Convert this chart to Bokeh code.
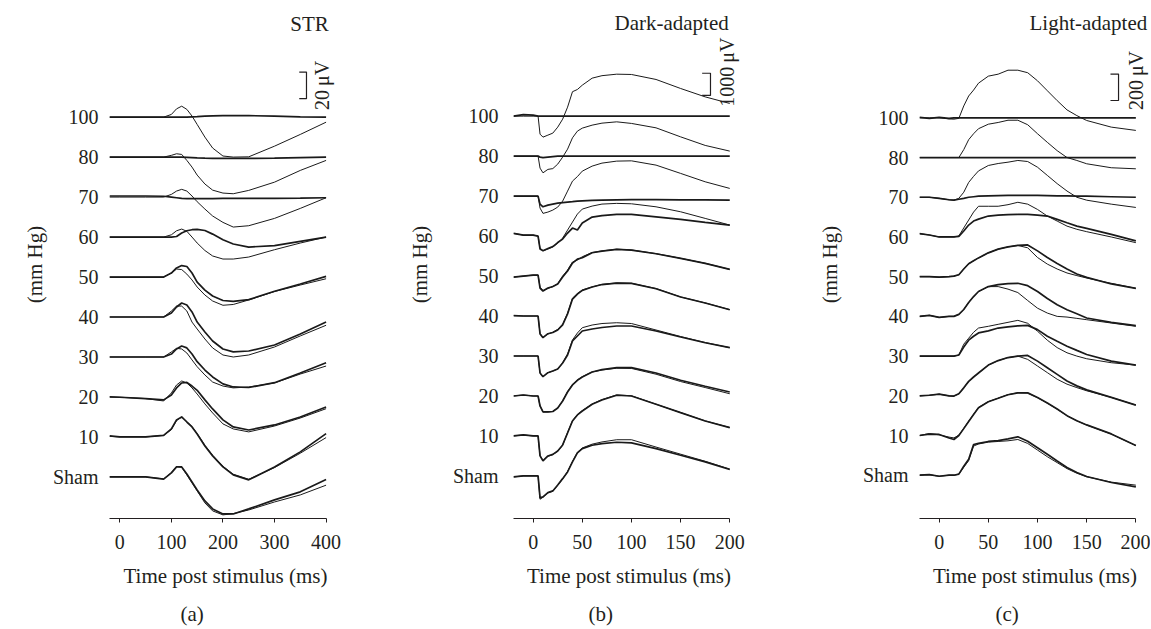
import math
from bokeh.plotting import figure
from bokeh.layouts import row
from bokeh.models import FixedTicker, Title, Range1d
from bokeh.core.properties import value
from bokeh.embed import file_html
from bokeh.resources import INLINE

FONT = "Liberation Serif"
INK = "#231f20"
TRACE = "#1a1a1a"

LEVEL_LABELS = ["Sham", "10", "20", "30", "40", "50", "60", "70", "80", "100"]

# ---------------- (a) STR, values in microvolts ----------------
STR_T = [-20, 0, 50, 85, 100, 110, 120, 130, 140, 150, 165, 180, 200, 220, 250, 300, 350, 400]
STR_SHAM_A = [0, 0, 0, -1.7, 3, 7.5, 7.5, 2.2, -3.8, -9.8, -18, -24, -27.8, -27.8, -24, -17.2, -11.2, -2]
STR_SHAM_B = [0, 0, 0, -1.5, 3.2, 7.8, 7.2, 1.5, -4.5, -10.5, -19.5, -25.5, -28.5, -27.5, -24.8, -18.8, -13.5, -6.2]
STR_10_A = [0.8, 0, 0, 1.2, 6, 12.8, 15, 11.2, 7.5, 2.2, -6.8, -14.2, -22.5, -28.5, -32.2, -22.5, -11.2, 2.5]
STR_10_B = [0.5, 0, 0, 1.2, 5.5, 12.2, 15, 11.5, 7.8, 2.5, -6.2, -13.8, -22, -28, -31.8, -23, -12.2, -0.5]
STR_20_A = [0, -0.2, -1.2, -2.2, 1.5, 6.8, 10.5, 10.9, 8.2, 5, -2.2, -9, -17.2, -22.5, -24.8, -21, -15, -7.5]
STR_20_B = [0, -0.2, -1.2, -3, 3, 9, 12, 10.5, 6.8, 2.2, -5.2, -12, -20.2, -24, -26.2, -21.8, -15.8, -8.8]
STR_30_A = [0, 0, 0, 0, 2.2, 6, 8.2, 6.8, 2.2, -3.5, -9.8, -15, -20.2, -22.5, -22.9, -19.3, -12, -4.3]
STR_30_B = [0, 0, 0, 0, 3.8, 6.5, 6, 3, -2.2, -7.3, -13.5, -18.8, -21.8, -23.2, -22.5, -19.5, -12.8, -6.8]
STR_40_A = [0, 0, 0, 0, 3, 7.5, 10.5, 9, 3.8, -3.8, -11.2, -18, -24, -26.2, -25.5, -21, -12.8, -3.8]
STR_40_B = [0, 0, 0, 0, 4.5, 8.2, 8.2, 4.5, -3.8, -9, -16.5, -23.2, -28.5, -30, -28.5, -22.5, -14.2, -6.2]
STR_50_A = [0, 0, 0, 0, 3, 6.8, 8.6, 7.9, 3, -3.8, -9.8, -14.2, -17.6, -18.2, -17, -10.7, -5.2, 0.5]
STR_50_B = [0, 0, 0, 0, 3, 6, 5.6, 2.2, -2.2, -7.5, -13.5, -18, -21.2, -20.6, -17.2, -10.9, -6, -1.3]
STR_60_A = [0, 0, 0, 0, 0, 0.4, 3, 4.7, 5.5, 5.8, 4.9, 2.2, -2, -5.2, -7.5, -6.5, -3.2, 0]
STR_60_B = [0, 0, 0, 0, 1.7, 4.7, 6, 4.3, 0, -4.5, -10.1, -14.2, -16.5, -16.5, -15, -9.5, -4.5, 0]
STR_70_A = [0.8, 0.8, 0.8, 0.6, 0, -0.5, -1, -1.1, -1.2, -1.2, -1.2, -1.1, -1, -1, -1, -1, -0.8, -0.5]
STR_70_B = [0, 0, 0, 0, 2, 4.5, 5.8, 4.5, 0.8, -3.5, -9, -14.2, -19, -22.5, -21.5, -16, -8.5, -0.5]
STR_80_A = [0, 0, 0, 0, 0, 0, 0, -0.2, -0.4, -0.6, -0.8, -0.9, -1, -1, -1, -0.8, -0.4, 0]
STR_80_B = [0, 0, 0, 0, 1.3, 2.5, 2, -2.5, -7.5, -13.5, -20.2, -24.8, -27, -27.5, -25, -18.8, -10, -2.5]
STR_100_A = [0, 0, 0, 0, 0, 0, 0, 0, 0.2, 0.4, 0.8, 1, 1.1, 1.1, 1.1, 0.8, 0.2, 0]
STR_100_B = [0, 0, 0, 0, 2, 6.2, 8.2, 5.8, 0.8, -5.5, -15, -23.2, -29.2, -30, -29.8, -21.8, -13, -3.8]

# ---------------- (b) Dark-adapted ----------------
DARK_T = [-20, -10, 0, 5, 7, 10, 15, 20, 25, 30, 35, 40, 45, 50, 60, 70, 85, 100, 125, 150, 175, 200]
DARK_SHAM_A = [-45, 0, 0, 0, -990, -945, -752, -675, -405, -122, 180, 630, 1035, 1228, 1382, 1454, 1516, 1485, 1228, 932, 630, 292]
DARK_SHAM_B = [-45, 0, 0, 0, -1050, -960, -760, -690, -420, -140, 200, 650, 1060, 1260, 1430, 1530, 1630, 1630, 1300, 980, 660, 310]
DARK_10_A = [0, 45, 0, 0, -900, -1125, -900, -832, -675, -405, 135, 675, 945, 1125, 1426, 1620, 1832, 1800, 1426, 1048, 675, 374]
DARK_10_B = [0, 45, 0, 0, -880, -1100, -920, -840, -690, -420, 160, 690, 960, 1140, 1440, 1640, 1850, 1810, 1430, 1050, 680, 380]
DARK_20_A = [0, 45, 0, 0, -450, -720, -720, -698, -540, -225, 180, 495, 706, 855, 1080, 1184, 1274, 1274, 1035, 706, 436, 180]
DARK_20_B = [0, 45, 0, 0, -450, -720, -720, -698, -540, -225, 200, 520, 720, 870, 1080, 1170, 1250, 1240, 980, 650, 380, 100]
DARK_30_A = [0, 0, 0, 0, -765, -932, -752, -675, -585, -315, 45, 675, 900, 1125, 1215, 1282, 1350, 1350, 1125, 855, 598, 374]
DARK_30_B = [0, 0, 0, 0, -765, -932, -752, -675, -585, -315, 90, 720, 1035, 1274, 1395, 1462, 1498, 1462, 1170, 878, 608, 374]
DARK_40_A = [22, 0, 0, 0, -810, -976, -796, -742, -630, -405, 90, 765, 990, 1156, 1305, 1418, 1485, 1472, 1228, 855, 585, 284]
DARK_40_B = [22, 0, 0, 0, -780, -960, -810, -730, -600, -360, 135, 800, 1010, 1170, 1310, 1425, 1490, 1475, 1240, 860, 590, 290]
DARK_50_A = [-45, 0, 45, 45, -540, -675, -540, -472, -360, -45, 225, 585, 765, 824, 1048, 1125, 1202, 1170, 1004, 796, 572, 302]
DARK_50_B = [-45, 0, 45, 45, -500, -650, -560, -480, -340, 0, 270, 630, 720, 870, 1060, 1130, 1210, 1175, 1010, 800, 575, 300]
DARK_60_A = [122, 45, 45, 0, -585, -662, -562, -472, -292, -135, 135, 360, 270, 585, 855, 922, 976, 976, 868, 752, 616, 495]
DARK_60_B = [122, 45, 45, 0, -540, -662, -585, -495, -315, -90, 270, 630, 990, 1215, 1350, 1440, 1472, 1454, 1318, 1094, 796, 495]
DARK_70_A = [0, 0, 0, 0, -360, -482, -405, -360, -315, -292, -270, -248, -225, -212, -189, -180, -166, -158, -158, -166, -171, -180]
DARK_70_B = [0, 0, 0, 0, -540, -778, -720, -630, -495, -225, 225, 675, 878, 1125, 1350, 1485, 1575, 1588, 1395, 1022, 644, 346]
DARK_80_A = [0, 0, 0, 0, -45, -68, -45, -22, 0, 0, 0, 0, 0, 0, 0, 0, 0, 0, 0, 0, 0, 0]
DARK_80_B = [0, 0, 0, 0, -540, -752, -598, -562, -360, -45, 315, 824, 1125, 1260, 1395, 1485, 1544, 1472, 1274, 868, 482, 225]
DARK_100_A = [0, 68, 45, 0, 0, 0, 0, 0, 0, 0, 0, 0, 0, 0, 0, 0, 0, 0, 0, 0, 0, 0]
DARK_100_B = [0, 0, 0, 0, -810, -945, -855, -765, -495, -135, 405, 1100, 1200, 1395, 1710, 1822, 1890, 1876, 1652, 1246, 868, 572]

# ---------------- (c) Light-adapted ----------------
LIGHT_T = [-20, -10, 0, 10, 15, 20, 25, 30, 35, 40, 50, 60, 70, 80, 90, 100, 110, 120, 130, 140, 150, 175, 200]
LIGHT_SHAM_A = [0, 4, -8, 0, 0, 8, 68, 120, 232, 240, 255, 262, 275, 290, 257, 208, 158, 107, 58, 20, -10, -55, -88]
LIGHT_SHAM_B = [0, 4, -8, 0, 0, 8, 60, 110, 220, 236, 250, 255, 260, 270, 240, 190, 140, 95, 50, 15, -12, -52, -75]
LIGHT_10_A = [0, 11, 8, -19, -30, 0, 52, 105, 158, 210, 255, 281, 308, 322, 322, 287, 245, 200, 150, 112, 80, 12, -75]
LIGHT_10_B = [0, 15, 5, -12, -18, 2, 55, 108, 160, 212, 256, 282, 309, 323, 321, 286, 244, 199, 149, 111, 79, 11, -76]
LIGHT_20_A = [0, 4, 12, 0, -2, 15, 60, 109, 142, 172, 232, 266, 289, 300, 305, 262, 212, 162, 112, 75, 45, -12, -70]
LIGHT_20_B = [0, 4, 12, 0, -2, 15, 60, 109, 142, 172, 232, 266, 289, 300, 275, 225, 175, 125, 88, 62, 38, -12, -70]
LIGHT_30_A = [0, 0, 0, 0, 0, 8, 68, 120, 150, 175, 191, 212, 221, 229, 232, 200, 150, 112, 75, 43, 12, -38, -68]
LIGHT_30_B = [0, 0, 0, 0, 0, 8, 90, 135, 180, 212, 225, 240, 255, 270, 248, 188, 120, 64, 25, 0, -20, -50, -68]
LIGHT_40_A = [0, 8, -8, 0, 0, 15, 52, 105, 150, 188, 225, 240, 248, 250, 232, 188, 135, 88, 50, 20, -12, -45, -70]
LIGHT_40_B = [0, 8, -8, 0, 0, 15, 52, 105, 150, 188, 225, 225, 206, 180, 120, 62, 25, 0, -5, -15, -25, -50, -75]
LIGHT_50_A = [0, 0, -4, 0, 4, 15, 58, 98, 120, 142, 180, 208, 225, 236, 240, 195, 145, 100, 58, 20, -5, -55, -88]
LIGHT_50_B = [0, 0, -4, 0, 4, 15, 58, 98, 120, 142, 180, 208, 225, 236, 218, 145, 95, 58, 28, 8, -10, -50, -88]
LIGHT_60_A = [25, 15, 0, 0, 0, 4, 45, 90, 120, 135, 158, 165, 169, 170, 170, 165, 158, 133, 107, 82, 65, 20, -30]
LIGHT_60_B = [25, 15, 0, 0, 0, 8, 68, 128, 188, 232, 232, 232, 244, 262, 248, 208, 158, 120, 82, 58, 40, 0, -43]
LIGHT_70_A = [0, 0, -8, -19, -22, -15, -8, 0, 4, 8, 11, 13, 15, 15, 15, 15, 13, 11, 10, 9, 8, 4, 0]
LIGHT_70_B = [0, 0, -8, -19, -22, -8, 38, 112, 158, 199, 240, 255, 265, 278, 270, 227, 165, 103, 47, 0, -22, -52, -77]
LIGHT_80_A = [0] * 23
LIGHT_80_B = [0, 0, 0, 0, 0, 0, 60, 135, 180, 218, 252, 265, 282, 282, 248, 180, 115, 52, 0, -22, -47, -77, -85]
LIGHT_100_A = [4, -4, 4, -4, 0, 0, 0, 0, 0, 0, 0, 0, 0, 0, 0, 0, 0, 0, 0, 0, 0, 0, 0]
LIGHT_100_B = [0, 0, 0, -8, -10, -4, 90, 165, 210, 262, 315, 330, 360, 360, 341, 280, 205, 130, 60, 17, -20, -70, -95]

STR_TRACES = [(STR_SHAM_A, STR_SHAM_B), (STR_10_A, STR_10_B), (STR_20_A, STR_20_B),
              (STR_30_A, STR_30_B), (STR_40_A, STR_40_B), (STR_50_A, STR_50_B),
              (STR_60_A, STR_60_B), (STR_70_A, STR_70_B), (STR_80_A, STR_80_B),
              (STR_100_A, STR_100_B)]
DARK_TRACES = [(DARK_SHAM_A, DARK_SHAM_B), (DARK_10_A, DARK_10_B), (DARK_20_A, DARK_20_B),
               (DARK_30_A, DARK_30_B), (DARK_40_A, DARK_40_B), (DARK_50_A, DARK_50_B),
               (DARK_60_A, DARK_60_B), (DARK_70_A, DARK_70_B), (DARK_80_A, DARK_80_B),
               (DARK_100_A, DARK_100_B)]
LIGHT_TRACES = [(LIGHT_SHAM_A, LIGHT_SHAM_B), (LIGHT_10_A, LIGHT_10_B), (LIGHT_20_A, LIGHT_20_B),
                (LIGHT_30_A, LIGHT_30_B), (LIGHT_40_A, LIGHT_40_B), (LIGHT_50_A, LIGHT_50_B),
                (LIGHT_60_A, LIGHT_60_B), (LIGHT_70_A, LIGHT_70_B), (LIGHT_80_A, LIGHT_80_B),
                (LIGHT_100_A, LIGHT_100_B)]

FS_TICK = "20px"
FS_WORD = "21px"
FS_BAR = "20px"


def panel(times, traces, spacing, xticks, x_end, y_lo, y_hi, label_top,
          title, title_xy, bar_uv, bar_label, bar_x, bar_tick_x, bar_base,
          bar_text_xy, letter, border_left, border_right, tick_standoff,
          label_standoff, letter_offset):
    fw = 232 if x_end > 300 else 231
    p = figure(frame_width=fw, frame_height=508,
               x_range=Range1d(-20, x_end), y_range=Range1d(y_lo, y_hi),
               output_backend="svg", toolbar_location=None,
               min_border_left=border_left, min_border_right=border_right,
               min_border_top=10, min_border_bottom=110,
               outline_line_color=None, background_fill_color="white",
               border_fill_color="white")
    p.grid.visible = False

    for i, (a, b) in enumerate(traces):
        off = spacing * i
        p.line(times, [v + off for v in a], line_color=TRACE, line_width=1.7)
        p.line(times, [v + off for v in b], line_color=TRACE, line_width=1.0)

    # panel title
    p.text(x=[title_xy[0]], y=[title_xy[1]], text=[title], text_font=value(FONT),
           text_font_size=FS_WORD, text_align="right", text_baseline="alphabetic",
           text_color=INK)
    # scale bar
    p.line([bar_tick_x, bar_x, bar_x, bar_tick_x],
           [bar_base, bar_base, bar_base + bar_uv, bar_base + bar_uv],
           line_color=INK, line_width=1.2)
    p.text(x=[bar_text_xy[0]], y=[bar_text_xy[1]], text=[bar_label],
           text_font=value(FONT), text_font_size=FS_BAR, text_align="center",
           text_baseline="middle", angle=math.pi / 2, text_color=INK)

    # x axis
    xa = p.xaxis[0]
    xa.ticker = FixedTicker(ticks=xticks)
    xa.bounds = (-20, xticks[-1])
    xa.axis_label = "Time post stimulus (ms)"
    xa.axis_label_text_font = FONT
    xa.axis_label_text_font_size = FS_WORD
    xa.axis_label_text_font_style = "normal"
    xa.axis_label_text_color = INK
    xa.axis_label_standoff = 12
    xa.major_label_text_font = FONT
    xa.major_label_text_font_size = FS_TICK
    xa.major_label_text_color = INK
    xa.major_label_standoff = 12
    xa.major_tick_in = 0
    xa.major_tick_out = 4
    xa.minor_tick_line_color = None
    xa.axis_line_color = INK
    xa.major_tick_line_color = INK

    # y axis (pressure levels)
    ya = p.yaxis[0]
    ticks = [spacing * i for i in range(len(LEVEL_LABELS))]
    ya.ticker = FixedTicker(ticks=ticks)
    ya.major_label_overrides = {t: lab for t, lab in zip(ticks, LEVEL_LABELS)}
    ya.bounds = (y_lo, label_top)
    ya.axis_line_color = None
    ya.major_tick_line_color = None
    ya.minor_tick_line_color = None
    ya.major_tick_out = 0
    ya.major_tick_in = 0
    ya.major_label_standoff = tick_standoff
    ya.major_label_text_font = FONT
    ya.major_label_text_font_size = FS_TICK
    ya.major_label_text_color = INK
    ya.axis_label = "(mm Hg)"
    ya.axis_label_text_font = FONT
    ya.axis_label_text_font_size = FS_WORD
    ya.axis_label_text_font_style = "normal"
    ya.axis_label_text_color = INK
    ya.axis_label_standoff = label_standoff

    p.add_layout(Title(text=letter, align="left", offset=letter_offset,
                       standoff=18, text_font=FONT, text_font_size=FS_WORD,
                       text_font_style="normal", text_color=INK), "below")
    return p


pa = panel(STR_T, STR_TRACES, 30, [0, 100, 200, 300, 400], 429.9, -31.2, 350, 306.5,
           "STR", (405.3, 339.5), 20, "20\u2009\u03bcV", 362, 348, 283.8, (392.5, 293.8),
           "(a)", 109, 34, 11, 3, 71)
pb = panel(DARK_T, DARK_TRACES, 1800, [0, 50, 100, 150, 200], 215.0, -1917, 20957, 18346,
           "Dark-adapted", (199, 20385), 1000, "1000\u2009\u03bcV", 180.4, 171.9, 17131,
           (197.4, 18180), "(b)", 138, 31, 15, 18, 75)
pc = panel(LIGHT_T, LIGHT_TRACES, 300, [0, 50, 100, 150, 200], 214.9, -327, 3511, 3073,
           "Light-adapted", (211.6, 3415), 200, "200\u2009\u03bcV", 182.4, 174.2, 2831,
           (200.4, 2982), "(c)", 144, 0, 11, 18, 76)

layout = row(pa, pb, pc)
open("out.html", "w").write(file_html(layout, INLINE))
